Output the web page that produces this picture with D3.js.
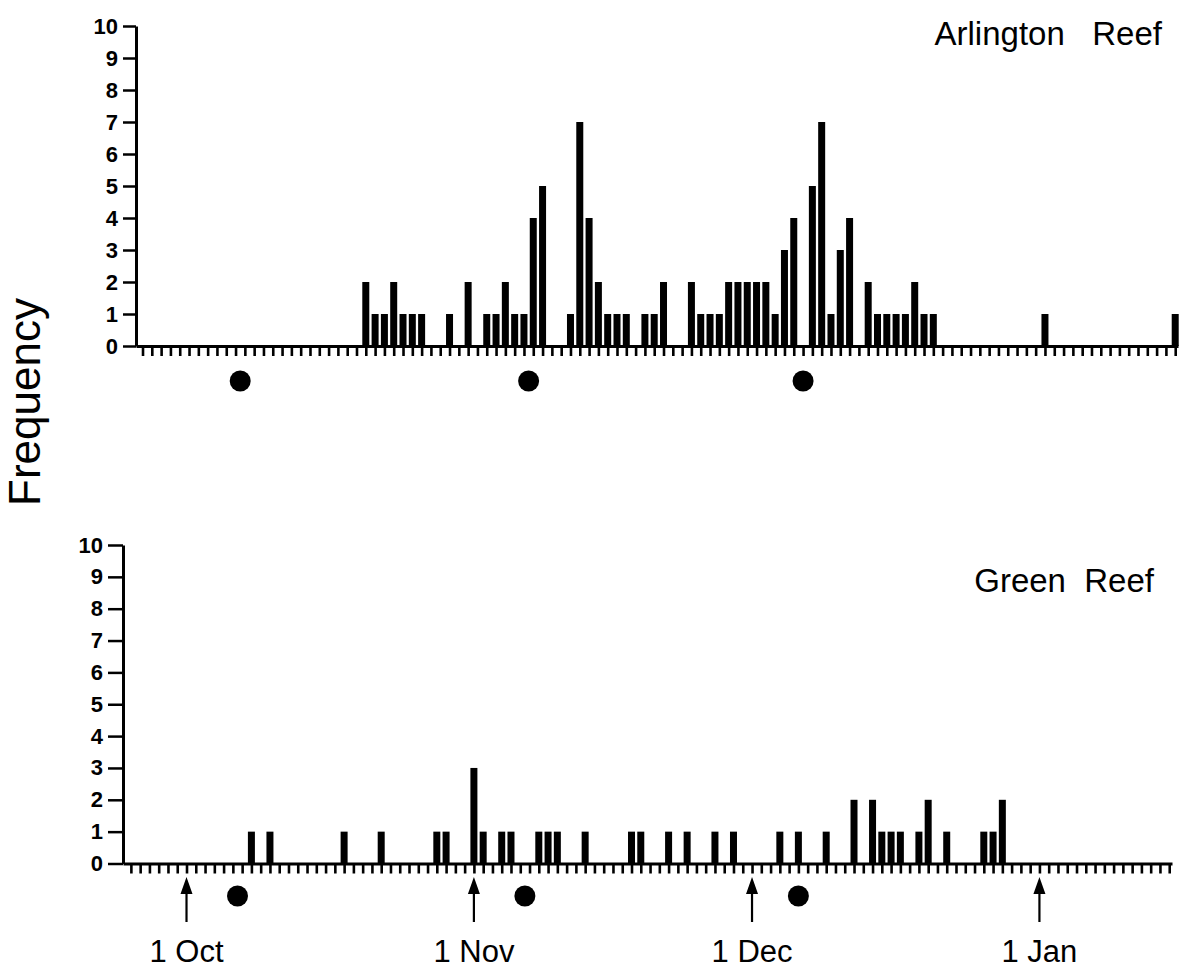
<!DOCTYPE html>
<html>
<head>
<meta charset="utf-8">
<script src="https://cdn.jsdelivr.net/npm/d3@7"></script>
<style>
  body { margin: 0; background: #fff; }
  svg { display: block; font-family: 'Liberation Sans', Arial, sans-serif; }
</style>
</head>
<body>
<div id="chart"></div>
<script>
(function(module){

  // day numbers counted from 1 Oct (day 0)
  let arlingtonDays = [19, 20, 21, 22, 23, 24, 25, 28, 30, 32, 33, 34, 35, 36, 37, 38,
    41, 42, 43, 44, 45, 46, 47, 49, 50, 51, 54, 55, 56, 57, 58, 59, 60, 61, 62, 63, 64, 65,
    67, 68, 69, 70, 71, 73, 74, 75, 76, 77, 78, 79, 80, 92, 106];
  let arlingtonCounts = [2, 1, 1, 2, 1, 1, 1, 1, 2, 1, 1, 2, 1, 1, 4, 5,
    1, 7, 4, 2, 1, 1, 1, 1, 1, 2, 2, 1, 1, 1, 2, 2, 2, 2, 2, 1, 3, 4,
    5, 7, 1, 3, 4, 2, 1, 1, 1, 1, 2, 1, 1, 1, 1];

  let greenDays = [7, 9, 17, 21, 27, 28, 31, 32, 34, 35, 38, 39, 40, 43, 48, 49, 52, 54,
    57, 59, 64, 66, 69, 72, 74, 75, 76, 77, 79, 80, 82, 86, 87, 88];
  let greenCounts = [1, 1, 1, 1, 1, 1, 3, 1, 1, 1, 1, 1, 1, 1, 1, 1, 1, 1,
    1, 1, 1, 1, 1, 2, 2, 1, 1, 1, 1, 2, 1, 1, 1, 2];

  let moonDays = [5.5, 36.5, 66];
  let monthLabels = ['1 Oct', '1 Nov', '1 Dec', '1 Jan'];
  let monthDays = [0, 31, 61, 92];
  let freqTicks = [0, 1, 2, 3, 4, 5, 6, 7, 8, 9, 10];

  let width = 1184;
  let height = 976;
  let barWidth = 7;

  let panels = [
    {name: 'Arlington   Reef', days: arlingtonDays, counts: arlingtonCounts,
      dayExtent: [-5.7, 106.3], xRange: [136, 1178], yRange: [346, 26],
      titleX: 1162, titleY: 45, tickLen: 13, moonY: 381},
    {name: 'Green  Reef', days: greenDays, counts: greenCounts,
      dayExtent: [-6.85, 106.3], xRange: [123, 1172], yRange: [863.5, 545],
      titleX: 1154, titleY: 592, tickLen: 15, moonY: 896}
  ];

  let svg = d3.select('#chart')
  .append('svg')
  .attr('width', width)
  .attr('height', height);

  let drawPanel = function(p){
    let x = d3.scaleLinear().domain(p.dayExtent).range(p.xRange);
    let y = d3.scaleLinear().domain([0, 10]).range(p.yRange);
    let g = svg.append('g');

    // bars
    g.selectAll('.bar')
    .data(p.days.map((d, i) => ({day: d, n: p.counts[i]})))
    .enter().append('rect')
    .attr('class', 'bar')
    .attr('x', (d) => x(d.day) - barWidth / 2)
    .attr('width', barWidth)
    .attr('y', (d) => y(d.n))
    .attr('height', (d) => y(0) - y(d.n))
    .attr('fill', '#000');

    // one tick per day along the bottom
    let dayTicks = d3.range(Math.ceil(p.dayExtent[0]), Math.floor(p.dayExtent[1]) + 1);
    let xAxis = g.append('g')
    .attr('transform', `translate(0, ${y(0)})`)
    .call(d3.axisBottom(x).tickValues(dayTicks).tickFormat('').tickSize(10).tickSizeOuter(0));
    xAxis.select('.domain').attr('stroke-width', 3);
    xAxis.selectAll('.tick line').attr('stroke-width', 2.6);

    let yAxis = g.append('g')
    .attr('transform', `translate(${p.xRange[0]}, 0)`)
    .call(d3.axisLeft(y).tickValues(freqTicks).tickSize(p.tickLen).tickSizeOuter(0).tickPadding(5));
    yAxis.select('.domain').attr('stroke-width', 3);
    yAxis.selectAll('.tick line').attr('stroke-width', 2.5);
    yAxis.selectAll('.tick text')
    .attr('font-size', 22)
    .attr('font-weight', 'bold')
    .attr('font-family', "'Liberation Sans', Arial, sans-serif")
    .attr('fill', '#000');

    // moon markers
    g.selectAll('.moon')
    .data(moonDays)
    .enter().append('circle')
    .attr('class', 'moon')
    .attr('cx', (d) => x(d))
    .attr('cy', p.moonY)
    .attr('r', 10.5)
    .attr('fill', '#000');

    g.append('text')
    .attr('x', p.titleX)
    .attr('y', p.titleY)
    .attr('text-anchor', 'end')
    .attr('font-size', 33)
    .style('white-space', 'pre')
    .text(p.name);

    return x;
  };

  let xTop = drawPanel(panels[0]);
  let xBottom = drawPanel(panels[1]);

  // month arrows under the lower panel
  let months = svg.selectAll('.month')
  .data(monthDays.map((d, i) => ({day: d, label: monthLabels[i]})))
  .enter().append('g')
  .attr('class', 'month')
  .attr('transform', (d) => `translate(${xBottom(d.day)}, 0)`);

  months.append('line')
  .attr('y1', 890)
  .attr('y2', 922)
  .attr('stroke', '#000')
  .attr('stroke-width', 2.2);

  months.append('path')
  .attr('d', 'M0,877 L-6,894 L6,894 Z')
  .attr('fill', '#000');

  months.append('text')
  .attr('y', 962)
  .attr('text-anchor', 'middle')
  .attr('font-size', 31)
  .style('white-space', 'pre')
  .text((d) => d.label);

  svg.append('text')
  .attr('transform', 'translate(40, 402) rotate(-90)')
  .attr('text-anchor', 'middle')
  .attr('font-size', 44)
  .text('Frequency');

})(window);
</script>
</body>
</html>
